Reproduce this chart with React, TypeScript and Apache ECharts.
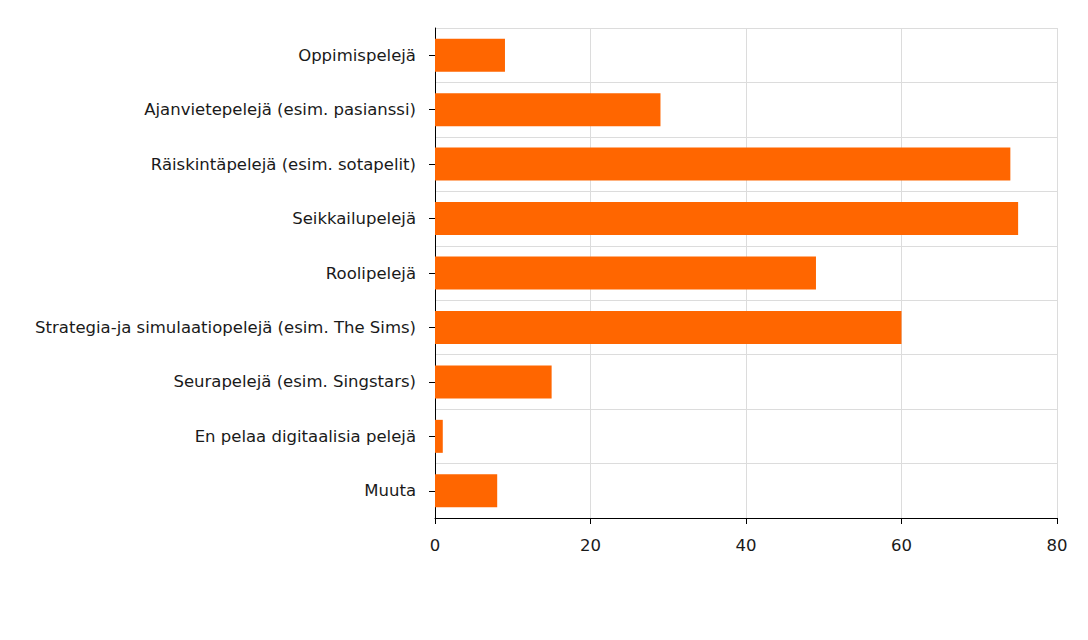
import React, { useEffect, useRef } from "react";
import * as echarts from "echarts";

const categories = [
  "Oppimispelejä",
  "Ajanvietepelejä (esim. pasianssi)",
  "Räiskintäpelejä (esim. sotapelit)",
  "Seikkailupelejä",
  "Roolipelejä",
  "Strategia-ja simulaatiopelejä (esim. The Sims)",
  "Seurapelejä (esim. Singstars)",
  "En pelaa digitaalisia pelejä",
  "Muuta",
];
const values = [9, 29, 74, 75, 49, 60, 15, 1, 8];
const xMin = 0;
const xMax = 80;
const xStep = 20;

export default function App() {
  const ref = useRef<HTMLDivElement>(null);
  useEffect(() => {
    if (!ref.current) return;
    const chart = echarts.init(ref.current, undefined, { renderer: "svg" });
    chart.setOption({
      animation: false,
      textStyle: { fontFamily: "DejaVu Sans" },
      grid: { left: 435, right: 31, top: 28, bottom: 122, containLabel: false },
      xAxis: {
        type: "value",
        min: xMin,
        max: xMax,
        interval: xStep,
        axisLine: { show: true, lineStyle: { color: "#000", width: 1 } },
        axisTick: { show: true, length: 6, lineStyle: { color: "#000" } },
        axisLabel: { color: "#1a1a1a", fontSize: 16.5, margin: 19, fontFamily: "DejaVu Sans" },
        splitLine: { show: true, lineStyle: { color: "#dcdcdc", width: 1 } },
      },
      yAxis: {
        type: "category",
        data: categories,
        inverse: true,
        axisLine: { show: true, lineStyle: { color: "#000", width: 1 } },
        axisTick: { show: true, length: 6, alignWithLabel: true, lineStyle: { color: "#000" } },
        axisLabel: { color: "#1a1a1a", fontSize: 16.5, margin: 19, fontFamily: "DejaVu Sans" },
        splitLine: { show: true, lineStyle: { color: "#dcdcdc", width: 1 } },
      },
      series: [
        {
          type: "bar",
          data: values,
          barWidth: 33,
          itemStyle: { color: "#ff6600" },
        },
      ],
    });
    return () => chart.dispose();
  }, []);
  return (
    <div
      ref={ref}
      style={{ position: "absolute", left: 0, top: 0, width: 1088, height: 640, background: "#fff" }}
    />
  );
}
